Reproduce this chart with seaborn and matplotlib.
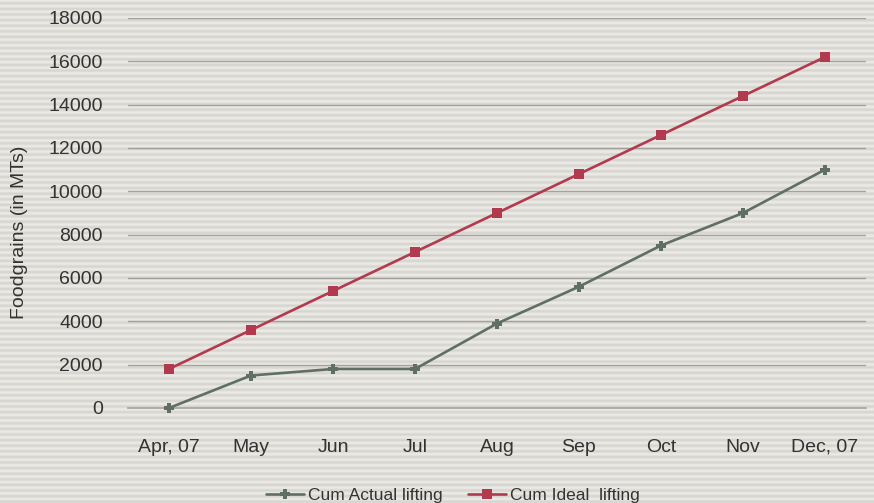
import numpy as np
import pandas as pd
import matplotlib
matplotlib.use("Agg")
import matplotlib.pyplot as plt
import seaborn as sns

months = ["Apr, 07", "May", "Jun", "Jul", "Aug", "Sep", "Oct", "Nov", "Dec, 07"]
actual = [0, 1500, 1800, 1800, 3900, 5600, 7500, 9000, 11000]
ideal = [1800, 3600, 5400, 7200, 9000, 10800, 12600, 14400, 16200]
series_names = ["Cum Actual lifting", "Cum Ideal  lifting"]
yticks = [0, 2000, 4000, 6000, 8000, 10000, 12000, 14000, 16000, 18000]

sns.set_theme(style="white")
plt.rcParams["font.family"] = ["Liberation Sans", "DejaVu Sans"]

W, H, DPI = 874, 503, 100
fig = plt.figure(figsize=(W / DPI, H / DPI), dpi=DPI)
bg = "#e4e2dd"
fig.patch.set_facecolor(bg)

# scanned-paper stripe texture in a background axes
rows = np.arange(H)
stripe = 0.5 + 0.5 * np.cos(2 * np.pi * rows / 5.6)
tex = np.empty((H, W, 3))
light = np.array([0.925, 0.918, 0.900])
dark = np.array([0.845, 0.838, 0.820])
for c in range(3):
    tex[:, :, c] = (light[c] * stripe + dark[c] * (1 - stripe))[:, None]
bax = fig.add_axes([0, 0, 1, 1], zorder=-5)
bax.imshow(tex, aspect="auto", interpolation="nearest")
bax.axis("off")

ax = fig.add_axes([128 / W, 1 - 408 / H, (866 - 128) / W, (408 - 18) / H], zorder=2)
ax.set_facecolor("none")

df = pd.DataFrame({
    "Month": months * 2,
    "Value": actual + ideal,
    "Series": [series_names[0]] * len(months) + [series_names[1]] * len(months),
})
df["x"] = list(range(len(months))) * 2

palette = {series_names[0]: "#5f6f64", series_names[1]: "#b23a4e"}
markers = {series_names[0]: "P", series_names[1]: "s"}
sns.lineplot(data=df, x="x", y="Value", hue="Series", style="Series",
             palette=palette, markers=markers, dashes=False,
             markersize=7, linewidth=1.9, ax=ax, clip_on=False, zorder=3,
             markeredgewidth=0)

ax.set_xlim(-0.5, len(months) - 0.5)
ax.set_ylim(0, 18000)
ax.set_yticks(yticks)
ax.set_yticklabels([str(v) for v in yticks], fontsize=14, color="#333333")
ax.set_xticks(range(len(months)))
ax.set_xticklabels(months, fontsize=14, color="#333333")
ax.set_xticks(np.arange(-0.5, len(months), 1.0), minor=True)
ax.tick_params(axis="x", which="major", length=0, pad=22)
ax.tick_params(axis="x", which="minor", length=5, color="#9a9a9a", width=1, direction="out")
ax.tick_params(axis="y", length=0, pad=18)
ax.grid(axis="y", color="#8e8c88", linewidth=1.0, alpha=0.75)
ax.set_axisbelow(True)
for s in ["top", "right", "left"]:
    ax.spines[s].set_visible(False)
ax.spines["bottom"].set_color("#a8a6a2")
ax.set_xlabel("")
ax.set_ylabel("Foodgrains (in MTs)", fontsize=14, color="#333333")
ax.yaxis.set_label_coords(-0.136, 0.45)

leg = ax.legend(loc="upper center", bbox_to_anchor=(0.44, -0.165), ncol=2,
                frameon=False, fontsize=12.5, handlelength=2.2,
                columnspacing=1.5, handletextpad=0.2)
for t in leg.get_texts():
    t.set_color("#333333")

fig.savefig("out.png", dpi=DPI, facecolor=fig.get_facecolor())
